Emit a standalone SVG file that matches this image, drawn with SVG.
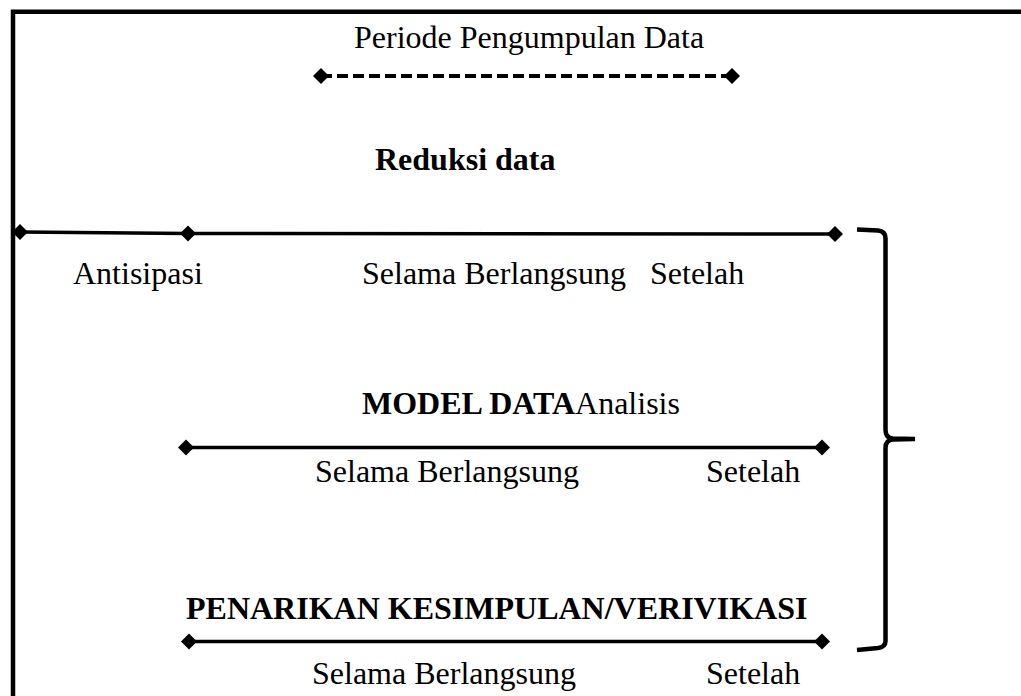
<svg xmlns="http://www.w3.org/2000/svg" width="1021" height="696" viewBox="0 0 1021 696">
<style>
.t{font-family:"Liberation Serif","Times New Roman",serif;font-size:32px;fill:#000}
.b{font-weight:bold}
.ln{stroke:#000;stroke-width:3.5;fill:none}
.fr{stroke:#000;stroke-width:4.5;fill:none}
</style>
<defs>
<path id="dia" d="M-8,0 L0,-8 L8,0 L0,8 Z" fill="#000"/>
</defs>
<rect width="1021" height="696" fill="#fff"/>
<g id="frame">
<path class="fr" d="M13,696 L13,11.7 L1021,11.7"/>
</g>
<g id="periode">
<text class="t" x="354" y="48">Periode Pengumpulan Data</text>
</g>
<g id="reduksi">
<text class="t b" x="375" y="170">Reduksi data</text>
<text class="t" x="73" y="284">Antisipasi</text>
<text class="t" x="362" y="284">Selama Berlangsung</text>
<text class="t" x="650" y="284">Setelah</text>
</g>
<g id="model">
<text class="t" x="362" y="414"><tspan class="b">MODEL DATA</tspan>Analisis</text>
<text class="t" x="315" y="482">Selama Berlangsung</text>
<text class="t" x="706" y="482">Setelah</text>
</g>
<g id="penarikan">
<text class="t b" x="186" y="619">PENARIKAN KESIMPULAN/VERIVIKASI</text>
<text class="t" x="312" y="684">Selama Berlangsung</text>
<text class="t" x="706" y="684">Setelah</text>
</g>
<g id="connectors">
<line x1="321" y1="76" x2="732" y2="76" stroke="#000" stroke-width="4" stroke-dasharray="11 5"/>
<use href="#dia" x="321" y="76"/>
<use href="#dia" x="732" y="76"/>
<path class="ln" d="M20,232 L188,233.5 L835,234"/>
<use href="#dia" x="20" y="232"/>
<use href="#dia" x="188" y="233.5"/>
<use href="#dia" x="835" y="234"/>
<line class="ln" x1="186" y1="447.5" x2="822" y2="447.5"/>
<use href="#dia" x="186" y="447.5"/>
<use href="#dia" x="822" y="447.5"/>
<line class="ln" x1="189" y1="641.5" x2="822" y2="641.5"/>
<use href="#dia" x="189" y="641.5"/>
<use href="#dia" x="822" y="641.5"/>
<path class="fr" stroke-width="4" d="M857,229.5 L878,230.5 Q885.5,231.5 885.5,238 L885.5,430 Q885.5,438 893,438.5 L915,439 L893,439.5 Q885.5,440 885.5,448 L885.5,641 Q885.5,647 878,648 L857,650"/>
</g>
</svg>
